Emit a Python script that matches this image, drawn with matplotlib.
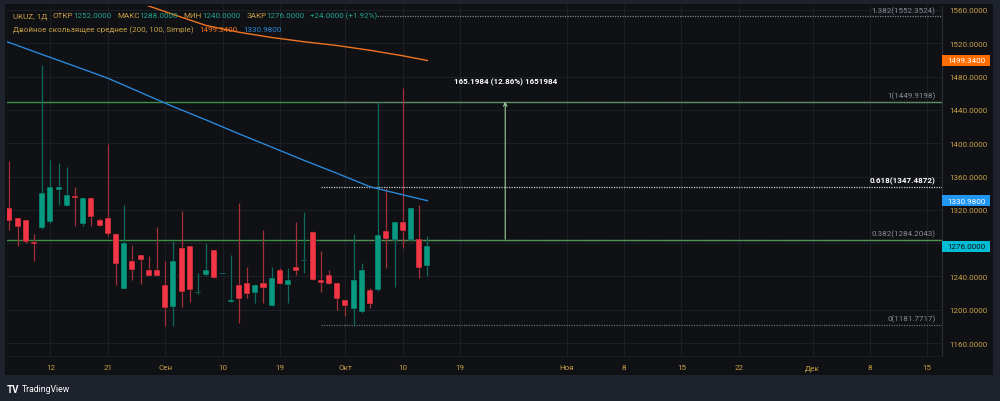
import matplotlib

matplotlib.use("Agg")
import matplotlib.pyplot as plt
import matplotlib.transforms as mtransforms
from matplotlib.patches import Rectangle

plt.rcParams["font.family"] = ["Roboto", "DejaVu Sans"]

# daily candles, UKUZ
opens = [1321.8, 1309.8, 1307.4, 1281.7, 1297.8, 1305.0, 1343.4, 1324.9, 1336.2, 1303.3,
         1333.8, 1307.4, 1309.8, 1291.5, 1225.2, 1258.5, 1265.7, 1248.0, 1248.0, 1230.0,
         1202.8, 1273.7, 1276.1, 1219.5, 1241.7, 1271.7, 1243.2, 1209.8, 1230.0, 1232.0,
         1220.4, 1232.0, 1204.8, 1247.7, 1229.3, 1251.3, 1258.3, 1293.7, 1236.0, 1241.7,
         1231.7, 1211.2, 1201.2, 1196.8, 1224.0, 1223.3, 1294.2, 1284.0, 1305.7, 1283.3,
         1285.3, 1252.0]
highs = [1378.2, 1310.5, 1308.0, 1291.3, 1494.0, 1380.2, 1375.8, 1371.8, 1347.4, 1335.4,
         1335.4, 1309.8, 1399.0, 1292.0, 1325.7, 1277.7, 1266.0, 1264.1, 1299.7, 1258.5,
         1282.1, 1318.9, 1276.5, 1243.7, 1279.7, 1272.0, 1244.2, 1265.7, 1328.1, 1251.3,
         1230.5, 1295.7, 1251.3, 1249.7, 1249.7, 1305.7, 1317.7, 1294.0, 1270.1, 1247.7,
         1232.0, 1211.5, 1291.3, 1255.7, 1225.7, 1449.1, 1345.8, 1305.7, 1465.9, 1321.8,
         1325.7, 1288.0]
lows = [1296.1, 1276.1, 1280.0, 1258.5, 1297.0, 1304.0, 1325.7, 1324.0, 1300.2, 1300.2,
        1300.2, 1300.9, 1289.0, 1230.2, 1225.0, 1236.0, 1230.5, 1240.5, 1240.8, 1180.0,
        1180.0, 1203.6, 1209.6, 1219.0, 1240.1, 1238.0, 1243.0, 1209.5, 1184.4, 1214.0,
        1208.4, 1208.4, 1204.5, 1230.9, 1208.4, 1242.0, 1244.4, 1235.5, 1220.9, 1231.0,
        1200.0, 1192.0, 1180.0, 1196.5, 1202.4, 1222.5, 1250.0, 1227.6, 1273.7, 1283.0,
        1238.1, 1240.0]
closes = [1306.9, 1299.3, 1281.7, 1279.3, 1340.2, 1347.8, 1347.4, 1338.1, 1333.8, 1333.8,
          1311.3, 1300.9, 1290.6, 1255.2, 1279.7, 1247.3, 1259.3, 1240.8, 1240.8, 1201.6,
          1258.5, 1220.9, 1223.6, 1220.5, 1247.7, 1238.4, 1244.0, 1210.8, 1213.2, 1218.8,
          1230.0, 1226.4, 1238.1, 1230.9, 1236.0, 1246.8, 1259.3, 1235.7, 1231.7, 1231.2,
          1213.2, 1204.4, 1236.0, 1247.7, 1207.2, 1289.7, 1284.5, 1305.7, 1294.9, 1321.8,
          1250.4, 1276.0]

# double moving average, vertices read at some bars
sma100_bars = [-1, 0, 4, 8, 12, 16, 20, 24, 28, 32, 36, 40, 44, 48, 51]
sma100_vals = [1524.5, 1520.8, 1506.5, 1492.4, 1478.1, 1461.0, 1443.9, 1427.9, 1411.3,
               1395.3, 1379.2, 1363.7, 1347.7, 1338.0, 1330.98]
sma200_bars = [15, 17, 20, 24, 28, 32, 36, 40, 44, 48, 51]
sma200_vals = [1571.5, 1564.8, 1554.6, 1541.4, 1533.3, 1527.0, 1521.8, 1517.3, 1511.6,
               1505.0, 1499.34]

# fibonacci retracement levels
fib_ratios = ["1.382", "1", "0.618", "0.382", "0"]
fib_prices = [1552.3524, 1449.9198, 1347.4872, 1284.2043, 1181.7717]
fib_start_bar = 38
hline_prices = [1449.9198, 1284.2043]

# price range measurement
measure_bar = 60.5
measure_low = 1284.7214
measure_high = 1449.9198
measure_label = "165.1984 (12.86%) 1651984"

tick_bars = [5, 12, 19, 26, 33, 41, 48, 55, 68, 75, 82, 89, 98, 105, 112]
tick_labels = ["12", "21", "Сен", "10", "19", "Окт", "10", "19", "Ноя", "8", "15", "22",
               "Дек", "8", "15"]
price_ticks = list(range(1160, 1561, 40))

W, H = 1000, 402
BG = "#0f1115"
FRAME = "#1e222d"
GRID = "#1c1f26"
GOLD = "#c8a046"
UP = "#089981"
DOWN = "#f23645"
UP_WICK = "#0b6b5c"
DOWN_WICK = "#a3303b"
ORANGE = "#ef7420"
BLUE = "#2a86d8"
FS = 5.8

fig = plt.figure(figsize=(W / 100, H / 100), dpi=100, facecolor=FRAME)
fig.patches.append(Rectangle((5 / W, 1 - 376 / H), 988 / W, 371 / H,
                             transform=fig.transFigure, facecolor=BG, edgecolor="none",
                             zorder=-5))

ax = fig.add_axes([7 / W, 1 - 357 / H, 935 / W, 350 / H])
ax.set_facecolor(BG)
ax.set_xlim(-0.3, 113.8)
ax.set_ylim(1144.4, 1564.8)
for s in ax.spines.values():
    s.set_visible(False)
ax.axvline(113.8, color="#2a2e39", lw=0.8, clip_on=False)
ax.axhline(1144.4, color="#1a1d24", lw=0.8, clip_on=False)

ax.set_yticks(price_ticks)
ax.set_yticklabels([f"{p:.4f}" for p in price_ticks])
ax.yaxis.tick_right()
ax.tick_params(axis="y", length=0, pad=5, labelsize=FS, labelcolor=GOLD)
ax.set_xticks(tick_bars)
ax.set_xticklabels(tick_labels)
ax.tick_params(axis="x", length=0, pad=6, labelsize=FS, labelcolor=GOLD)
ax.grid(True, color=GRID, lw=0.8)
ax.set_axisbelow(True)

# candles
for i, (o, h, l, c) in enumerate(zip(opens, highs, lows, closes)):
    up = c >= o
    ax.vlines(i, l, h, color=UP_WICK if up else DOWN_WICK, lw=0.9, zorder=3)
    body = max(abs(c - o), 1.3)
    ax.bar(i, body, bottom=min(o, c), width=0.74, color=UP if up else DOWN,
           edgecolor="#0a0c10", linewidth=0.3, zorder=4)

ax.plot(sma200_bars, sma200_vals, color=ORANGE, lw=1.0, zorder=5)
ax.plot(sma100_bars, sma100_vals, color=BLUE, lw=1.0, zorder=5)

# horizontal lines and fib levels
for p in hline_prices:
    ax.axhline(p, color="#3f8f44", lw=1.0, zorder=2)
fib_colors = ["#7c7f87", "#7c7f87", "#c8cad0", "#6f8f6a", "#6a6d75"]
label_colors = ["#8b8e96", "#8b8e96", "#ffffff", "#8b8e96", "#8b8e96"]
for r, p, lc, tc in zip(fib_ratios, fib_prices, fib_colors, label_colors):
    start = 44.9 if r == "1.382" else fib_start_bar
    ax.hlines(p, start, 113.8, color=lc, lw=0.9, linestyles=(0, (1, 1)), zorder=2)
    ax.annotate(f"{r}({p:.4f})", xy=(113.0, p), xytext=(0, 2), textcoords="offset points",
                ha="right", va="bottom", fontsize=FS, color=tc,
                fontweight="bold" if r == "0.618" else "normal", zorder=6)

ax.annotate("", xy=(measure_bar, measure_high), xytext=(measure_bar, measure_low),
            arrowprops=dict(arrowstyle="->", color="#9ccc9c", lw=0.8,
                            shrinkA=0, shrinkB=0, mutation_scale=6), zorder=6)
ax.annotate(measure_label, xy=(measure_bar, measure_high), xytext=(0, 12),
            textcoords="offset points", ha="center", va="bottom", fontsize=FS,
            color="white", fontweight="bold")

# price tags on the right scale
trans = mtransforms.blended_transform_factory(ax.transAxes, ax.transData)
for val, face, txt in [(sma200_vals[-1], "#ff6d00", "white"),
                       (sma100_vals[-1], "#2196f3", "white"),
                       (closes[-1], "#00bcd4", "#0f1115")]:
    ax.add_patch(Rectangle((1.0, val - 7.0), 0.0516, 14.0, transform=trans,
                           facecolor=face, edgecolor="none", clip_on=False, zorder=8))
    ax.text(1.0258, val, f"{val:.4f}", transform=trans, ha="center", va="center",
            fontsize=FS, color=txt, zorder=9, clip_on=False)

# legend rows
renderer = fig.canvas.get_renderer()


def draw_row(x0, y0, pieces):
    x = x0
    for s, color, gap in pieces:
        t = fig.text(x / W, 1 - y0 / H, s, color=color, fontsize=FS, va="center", ha="left")
        x += t.get_window_extent(renderer).width + gap


TEAL = "#22a58f"
draw_row(13, 16.5, [("UKUZ, 1Д", GOLD, 5), ("ОТКР", GOLD, 0), (f"{opens[-1]:.4f}", TEAL, 6),
                    ("МАКС", GOLD, 0), (f"{highs[-1]:.4f}", TEAL, 6),
                    ("МИН", GOLD, 0), (f"{lows[-1]:.4f}", TEAL, 6),
                    ("ЗАКР", GOLD, 0), (f"{closes[-1]:.4f}", TEAL, 6),
                    ("+24.0000 (+1.92%)", TEAL, 0)])
draw_row(13, 30, [("Двойное скользящее среднее (200, 100, Simple)", GOLD, 6),
                  (f"{sma200_vals[-1]:.4f}", ORANGE, 6), (f"{sma100_vals[-1]:.4f}", BLUE, 0)])

fig.text(7 / W, 1 - 390 / H, "TV", color="white", fontsize=7, fontweight="bold",
         va="center", ha="left")
fig.text(22 / W, 1 - 390 / H, "TradingView", color="white", fontsize=6.2,
         va="center", ha="left")

fig.savefig("out.png", dpi=100, facecolor=fig.get_facecolor())
plt.close(fig)
